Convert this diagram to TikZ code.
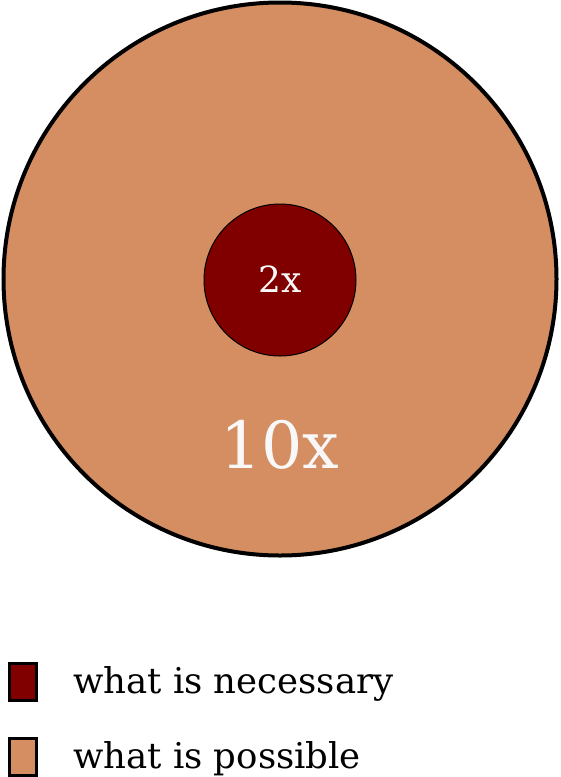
\documentclass[tikz,border=0pt]{standalone}
\usepackage{fontspec}
\setmainfont{DejaVu Serif}
\definecolor{possible}{RGB}{212,142,98}
\definecolor{necessary}{RGB}{128,0,0}
\definecolor{lbl}{RGB}{248,248,248}
\begin{document}
\begin{tikzpicture}[x=1pt,y=-1pt,
  legbox/.style={draw=black,line width=3pt,minimum width=27pt,minimum height=37pt,inner sep=0pt},
  legtext/.style={anchor=base west,inner sep=0pt,font=\fontsize{35.5}{35.5}\selectfont}]
\useasboundingbox (0,0) rectangle (560,777);
\node[circle,draw=black,line width=4pt,fill=possible,minimum size=553pt,inner sep=0pt] (big) at (280,279) {};
\node[circle,draw=black,line width=1pt,fill=necessary,minimum size=152pt,inner sep=0pt] (small) at (280,280) {};
\node[anchor=base,inner sep=0pt,text=lbl,font=\fontsize{36}{36}\selectfont] (t2) at (280,292) {2x};
\node[anchor=base,inner sep=0pt,text=lbl,font=\fontsize{65}{65}\selectfont] (t10) at (280,468) {10x};
\node[legbox,fill=necessary] (b1) at (23,681.5) {};
\node[legbox,fill=possible] (b2) at (23,756.5) {};
\node[legtext] (l1) at (73,693) {what is necessary};
\node[legtext] (l2) at (73,768) {what is possible};
\end{tikzpicture}
\end{document}
